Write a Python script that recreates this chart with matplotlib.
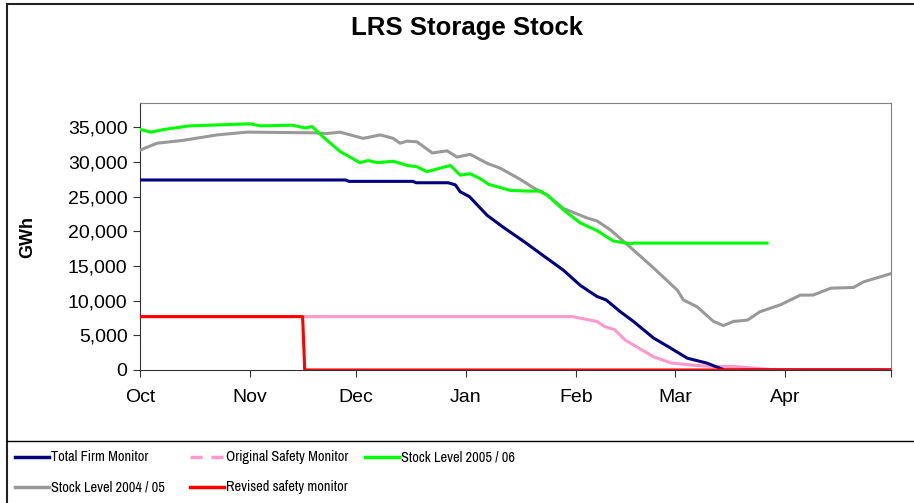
import matplotlib.pyplot as plt
from matplotlib.lines import Line2D
from matplotlib.ticker import FuncFormatter
from matplotlib import font_manager

plt.rcParams['font.family'] = ['Liberation Sans', 'DejaVu Sans']

# x values are days counted from 1 Oct
month_labels = ['Oct', 'Nov', 'Dec', 'Jan', 'Feb', 'Mar', 'Apr']
month_starts = [0, 31, 61, 92, 123, 151, 182]
season_end = 212

# Total Firm Monitor
firm_days = [0, 58, 59, 77, 78, 87, 89, 90.4, 93, 98, 102.5, 109, 113, 119.5,
             124.3, 129, 131.6, 135.6, 139.3, 145, 149, 154.5, 160, 165, 212]
firm_gwh = [27400, 27400, 27200, 27200, 27000, 27000, 26700, 25700, 25000, 22300,
            20600, 18300, 16800, 14400, 12200, 10600, 10100, 8400, 7000, 4600,
            3400, 1700, 1000, 0, 0]

# Original Safety Monitor
orig_days = [0, 122, 125, 129, 131, 134, 137, 141, 145, 150, 156, 162, 168, 175, 180, 212]
orig_gwh = [7700, 7700, 7400, 7000, 6300, 5800, 4300, 3100, 1900, 1000, 700, 500,
            500, 200, 0, 0]

# Stock Level 2005 / 06
s0506_days = [0, 3, 7, 14, 31, 34, 43, 46.6, 48.6, 51.7, 56.5, 59.3, 62, 64.4, 67,
              71.5, 75.4, 78.2, 81, 84, 87.6, 90.4, 93.2, 96, 98.3, 104.5, 109.3,
              113, 115, 119.5, 124.3, 129, 133.6, 138.4, 139.3, 177]
s0506_gwh = [34700, 34300, 34700, 35200, 35500, 35200, 35300, 34900, 35100, 33600,
             31500, 30700, 29900, 30200, 29900, 30100, 29500, 29300, 28600, 29000,
             29500, 28100, 28300, 27600, 26800, 25900, 25800, 25800, 25200, 23100,
             21200, 20100, 18600, 18200, 18300, 18300]

# Stock Level 2004 / 05
s0405_days = [0, 4.8, 12, 21.8, 30.2, 48.9, 52.8, 56.5, 63, 67.8, 71.5, 73.4, 75.4,
              78.2, 82.5, 86.7, 89.5, 93.2, 98, 101.7, 107.3, 111, 115, 119.5,
              126.3, 129, 132.8, 139.3, 145, 151.7, 153.4, 157.3, 161.9, 164.7,
              167.5, 171.5, 175, 180.8, 186.4, 190, 195, 201.4, 204.2, 212]
s0405_gwh = [31700, 32700, 33100, 33900, 34300, 34200, 34100, 34300, 33400, 33900,
             33400, 32700, 33000, 32900, 31300, 31600, 30700, 31100, 29800, 29100,
             27500, 26300, 25200, 23300, 21900, 21500, 20200, 17300, 14700, 11500,
             10100, 9100, 7000, 6400, 7000, 7200, 8400, 9400, 10800, 10800, 11800,
             11900, 12700, 13900]

# Revised safety monitor
rev_days = [0, 45.9, 46.5, 212]
rev_gwh = [7700, 7700, 0, 0]

# pick a narrow font for the legend if one is installed
narrow = [f for f in font_manager.fontManager.ttflist
          if f.style == 'normal' and f.weight in (400, 'normal')
          and ('Narrow' in f.name or 'Condensed' in f.name
               or f.stretch in ('condensed', 'semi-condensed', 500 - 125))]
narrow = sorted(narrow, key=lambda f: ('Liberation' not in f.name, f.name))
if narrow:
    leg_font = font_manager.FontProperties(fname=narrow[0].fname, size=10.3)
else:
    leg_font = font_manager.FontProperties(family='Liberation Sans', size=9.5)

W, H = 914, 503
fig = plt.figure(figsize=(W / 100, H / 100), dpi=100)
ax = fig.add_axes([140 / W, 1 - 370 / H, 751 / W, 267 / H])

ax.plot(orig_days, orig_gwh, color='#FF99CC', lw=2.2, zorder=2)
ax.plot(s0405_days, s0405_gwh, color='#999999', lw=2.2, zorder=3)
ax.plot(firm_days, firm_gwh, color='#000080', lw=2.2, zorder=4)
ax.plot(s0506_days, s0506_gwh, color='#00FF00', lw=2.2, zorder=5)
ax.plot(rev_days, rev_gwh, color='#FF0000', lw=2.2, zorder=6)

ax.set_xlim(0, season_end)
ax.set_ylim(0, 38500)
ax.set_xticks(month_starts + [season_end])
ax.set_xticklabels(month_labels + [''])
ax.set_yticks(range(0, 35001, 5000))
ax.yaxis.set_major_formatter(FuncFormatter(lambda v, p: f'{int(v):,}'))
ax.tick_params(labelsize=14, length=5, direction='out', color='#333333', pad=4)
ax.tick_params(axis='x', pad=9)
for side in ['left', 'bottom']:
    ax.spines[side].set_color('#333333')
for side in ['top', 'right']:
    ax.spines[side].set_color('#808080')
ax.set_ylabel('GWh', fontsize=13, fontweight='bold', labelpad=23)

fig.text(467 / W, 1 - 28 / H, 'LRS Storage Stock', ha='center', va='center',
         fontsize=18.5, fontweight='bold')

# outer frame and legend separator
fig.add_artist(Line2D([7 / W, 1], [1 - 4 / H, 1 - 4 / H], color='#222222', lw=1.5))
fig.add_artist(Line2D([7 / W, 7 / W], [0, 1 - 4 / H], color='#222222', lw=1.5))
fig.add_artist(Line2D([7 / W, 1], [1 - 441 / H, 1 - 441 / H], color='black', lw=1))

legend_items = [
    ('Total Firm Monitor', '#000080', '-'),
    ('Original Safety Monitor', '#FF99CC', (0, (3.5, 2.5))),
    ('Stock Level 2005 / 06', '#00FF00', '-'),
    ('Stock Level 2004 / 05', '#999999', '-'),
    ('Revised safety monitor', '#FF0000', '-'),
]
for i, (label, color, ls) in enumerate(legend_items):
    col, row = i % 3, i // 3
    x0 = 15 + col * 175
    y = 1 - (457 + row * 30) / H
    fig.add_artist(Line2D([x0 / W, (x0 + 34) / W], [y, y], color=color, lw=2.5,
                          linestyle=ls))
    fig.text((x0 + 36) / W, y, label, ha='left', va='center', fontproperties=leg_font)

fig.savefig('out.png', dpi=100)
